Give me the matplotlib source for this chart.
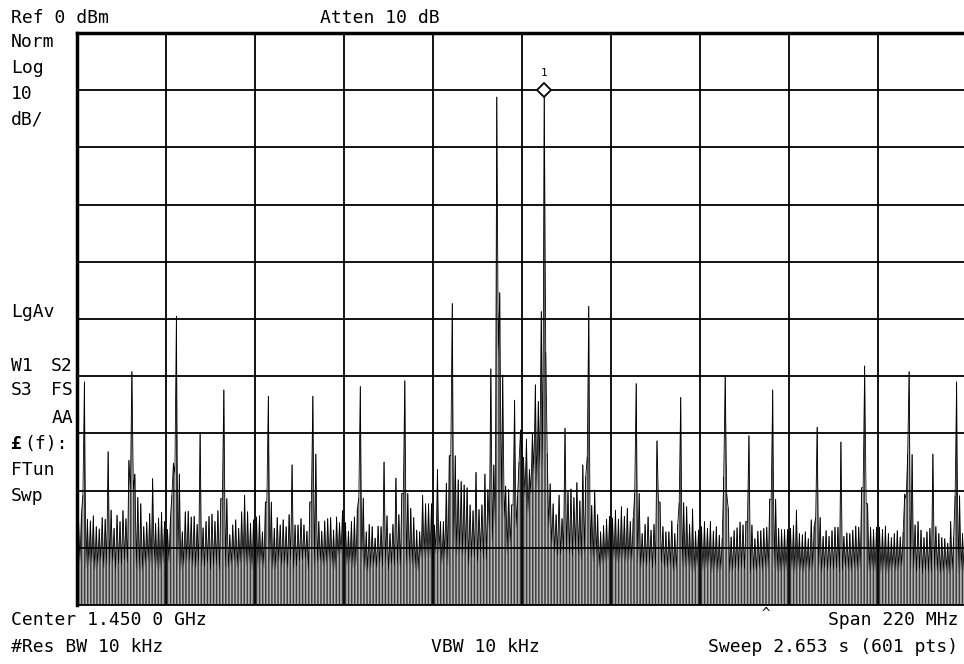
import matplotlib
matplotlib.use("Agg")
import matplotlib.pyplot as plt
import numpy as np

# sweep setup (MHz)
center = 1450.0
span = 220.0
n_pts = 601

# trace, odd sweep points (dBm)
upper = [
    -84.7, -84.0, -61.0, -85.0, -85.3, -84.4, -86.3, -86.7, -84.7, -85.0,
    -73.2, -83.4, -86.6, -84.3, -85.4, -83.5, -84.9, -74.7, -59.2, -77.1,
    -81.2, -82.3, -86.3, -85.5, -84.0, -77.9, -85.7, -84.8, -83.8, -85.4,
    -86.8, -84.6, -75.2, -49.5, -77.1, -87.2, -83.7, -83.6, -84.6, -84.5,
    -85.9, -69.8, -86.5, -85.4, -84.5, -84.1, -85.4, -83.5, -81.4, -62.4,
    -81.4, -87.7, -86.0, -85.1, -86.6, -83.7, -80.8, -83.7, -85.7, -85.1,
    -84.6, -84.4, -87.2, -82.0, -63.5, -82.0, -86.6, -84.7, -86.0, -85.1,
    -86.3, -84.2, -75.5, -86.0, -86.0, -84.9, -86.0, -87.1, -82.0, -63.5,
    -73.6, -85.4, -87.1, -85.3, -84.9, -84.7, -86.9, -84.6, -85.6, -83.5,
    -85.6, -87.1, -85.4, -84.6, -83.1, -61.8, -81.3, -87.2, -85.9, -86.3,
    -88.3, -86.2, -86.3, -75.0, -84.4, -87.5, -85.9, -77.8, -84.2, -80.5,
    -60.8, -80.5, -83.1, -84.7, -86.9, -87.2, -80.8, -82.3, -82.3, -82.3,
    -86.0, -76.3, -85.4, -85.4, -78.7, -73.9, -47.3, -73.9, -78.1, -78.4,
    -79.0, -79.5, -82.5, -83.5, -76.8, -83.3, -82.5, -77.1, -79.8, -58.7,
    -75.5, -11.2, -45.4, -59.8, -79.2, -79.8, -82.5, -64.2, -81.0, -69.4,
    -74.2, -71.0, -76.3, -69.9, -61.5, -64.4, -48.7, -10.0, -73.5, -78.8,
    -82.3, -84.2, -80.8, -84.9, -69.1, -80.0, -79.7, -81.2, -78.6, -81.8,
    -75.5, -77.5, -47.8, -82.6, -79.9, -84.2, -87.2, -86.1, -85.0, -84.5,
    -84.8, -83.4, -85.0, -82.8, -84.5, -83.1, -85.4, -84.8, -61.3, -80.5,
    -87.5, -85.9, -84.6, -86.9, -85.9, -71.3, -82.0, -86.3, -87.2, -87.2,
    -85.3, -87.5, -85.9, -63.7, -82.1, -82.8, -85.9, -83.2, -87.1, -86.9,
    -86.3, -85.4, -86.6, -85.4, -87.1, -86.3, -87.8, -88.3, -60.0, -83.0,
    -88.1, -87.0, -86.5, -85.5, -86.0, -85.4, -70.4, -86.0, -88.4, -87.1,
    -87.0, -86.6, -86.4, -81.5, -62.4, -81.5, -86.6, -86.8, -86.8, -86.8,
    -86.6, -86.1, -83.4, -87.5, -87.7, -87.2, -88.4, -85.1, -86.2, -68.9,
    -84.7, -88.0, -87.0, -88.0, -87.0, -86.4, -86.4, -71.5, -88.0, -87.4,
    -87.5, -86.9, -86.2, -86.4, -79.5, -58.2, -82.3, -86.4, -86.8, -86.4,
    -86.4, -86.8, -86.2, -87.5, -88.2, -87.5, -87.0, -88.1, -87.2, -81.5,
    -59.2, -73.7, -86.0, -85.4, -86.9, -88.2, -87.2, -86.6, -73.6, -86.3,
    -87.5, -88.2, -88.4, -89.2, -85.4, -88.2, -61.0, -80.9, -87.5, -86.6,
]

# trace, even sweep points (dBm)
lower = [
    -91.0, -92.5, -80.8, -93.4, -93.0, -92.6, -93.8, -93.2, -92.4, -93.6,
    -92.8, -93.2, -92.5, -93.7, -92.9, -93.1, -92.2, -92.7, -80.0, -79.9,
    -93.5, -93.9, -94.1, -93.0, -92.4, -93.2, -92.6, -93.4, -93.8, -92.6,
    -91.8, -92.5, -80.8, -77.1, -92.9, -93.8, -93.2, -92.5, -92.7, -93.3,
    -93.6, -92.8, -93.1, -93.4, -92.6, -93.9, -93.2, -92.8, -94.0, -81.4,
    -93.3, -93.6, -93.0, -92.4, -93.4, -92.9, -92.3, -93.1, -92.6, -93.7,
    -94.0, -93.2, -92.7, -93.4, -82.0, -92.5, -93.8, -93.6, -92.4, -93.3,
    -92.9, -93.5, -92.1, -93.7, -93.3, -92.4, -92.2, -91.9, -93.8, -82.0,
    -93.2, -92.6, -92.4, -93.1, -92.9, -92.2, -93.0, -93.7, -91.5, -91.0,
    -92.4, -93.0, -92.6, -93.5, -93.1, -81.3, -92.4, -93.8, -94.2, -93.6,
    -93.1, -93.5, -92.8, -93.4, -92.6, -93.9, -92.8, -93.2, -92.9, -93.3,
    -80.5, -93.0, -92.6, -93.1, -93.5, -94.0, -91.8, -91.6, -91.5, -91.6,
    -95.0, -91.0, -90.7, -92.8, -91.7, -93.1, -73.9, -90.8, -91.4, -91.0,
    -91.5, -91.2, -93.0, -91.7, -91.6, -92.5, -90.8, -92.0, -92.2, -86.7,
    -89.0, -86.0, -55.9, -83.0, -84.8, -91.0, -89.5, -82.5, -86.5, -75.0,
    -74.2, -81.0, -84.0, -80.5, -77.0, -79.2, -76.0, -76.0, -55.8, -86.3,
    -89.7, -90.8, -91.5, -91.3, -90.6, -90.7, -91.0, -91.5, -90.4, -91.3,
    -92.0, -91.0, -74.1, -90.9, -92.3, -91.4, -93.6, -92.7, -92.5, -92.1,
    -92.0, -92.0, -92.6, -92.3, -91.9, -92.5, -92.1, -92.3, -80.5, -92.6,
    -93.6, -92.9, -93.3, -92.6, -93.6, -93.0, -82.0, -92.7, -93.4, -93.6,
    -93.2, -94.1, -93.8, -82.1, -93.2, -93.6, -93.1, -93.9, -94.2, -93.2,
    -93.6, -94.0, -93.5, -93.0, -94.3, -93.6, -94.2, -93.8, -77.6, -80.6,
    -94.3, -94.0, -93.6, -94.0, -93.5, -93.8, -85.4, -94.4, -93.9, -94.2,
    -93.6, -94.0, -93.5, -93.8, -81.5, -93.4, -94.0, -94.2, -93.7, -93.9,
    -93.3, -93.7, -94.4, -93.6, -94.0, -94.2, -93.5, -94.1, -93.6, -84.7,
    -93.8, -94.3, -93.6, -94.0, -93.5, -93.9, -93.6, -94.2, -94.0, -93.4,
    -93.8, -94.1, -93.5, -93.9, -93.6, -79.5, -82.3, -94.2, -93.7, -94.0,
    -93.6, -94.3, -93.8, -94.4, -94.0, -93.5, -94.1, -93.7, -93.2, -80.6,
    -73.7, -94.0, -93.6, -94.3, -93.8, -94.4, -93.9, -94.2, -94.5, -93.7,
    -94.0, -94.6, -94.3, -93.8, -94.5, -94.0, -80.9, -94.3, -93.8, -94.4,
    -94.0,
]

marker_idx = 315
ref_level = 0
db_per_div = 10

W, H = 964, 664
fig = plt.figure(figsize=(W / 100, H / 100), dpi=100)
ax = fig.add_axes([77 / W, (H - 605) / H, 890 / W, 572 / H])

freq = np.linspace(center - span / 2, center + span / 2, n_pts)
trace = np.empty(n_pts)
trace[0::2] = lower
trace[1::2] = upper

bottom = ref_level - 10 * db_per_div
ax.vlines(freq, bottom, trace, color="black", lw=0.55, snap=False)
ax.plot(freq, trace, color="black", lw=0.6)

ax.set_xlim(freq[0], freq[-1])
ax.set_ylim(bottom, ref_level)
ax.set_xticks(np.linspace(freq[0], freq[-1], 11))
ax.set_yticks(np.linspace(bottom, ref_level, 11))
ax.grid(True, color="black", lw=1.3)
ax.tick_params(length=0, labelbottom=False, labelleft=False)
for s in ["left", "top"]:
    ax.spines[s].set_linewidth(2.5)
for s in ["right", "bottom"]:
    ax.spines[s].set_linewidth(1.3)

# marker 1
ax.plot(freq[marker_idx], trace[marker_idx], marker="D", ms=7, mfc="white",
        mec="black", mew=1.3, zorder=5)
ax.annotate("1", (freq[marker_idx], trace[marker_idx]), xytext=(0, 9),
            textcoords="offset points", ha="center", va="bottom",
            family="DejaVu Sans Mono", fontsize=8)

mono = "DejaVu Sans Mono"


def label(x, y, s, ha="left", **kw):
    fig.text(x / W, 1 - y / H, s, ha=ha, va="center", family=mono,
             fontsize=13, **kw)


label(11, 18, "Ref 0 dBm")
label(320, 18, "Atten 10 dB")
label(11, 42, "Norm")
label(11, 68, "Log")
label(11, 94, "10")
label(11, 119, "dB/")
label(11, 312, "LgAv")
label(11, 366, "W1")
label(73, 366, "S2", ha="right")
label(11, 390, "S3")
label(73, 390, "FS", ha="right")
label(73, 418, "AA", ha="right")
fig.text(11 / W, 1 - 444 / H, "£", ha="left", va="center", family=mono,
         fontsize=13, fontweight="bold")
label(24, 444, "(f):")
label(11, 470, "FTun")
label(11, 496, "Swp")

label(11, 620, "Center 1.450 0 GHz")
label(11, 647, "#Res BW 10 kHz")
label(485, 647, "VBW 10 kHz", ha="center")
label(958, 620, "Span 220 MHz", ha="right")
label(958, 647, "Sweep 2.653 s (601 pts)", ha="right")
fig.text(766 / W, 1 - 607 / H, "^", ha="center", va="top", family=mono,
         fontsize=10)

fig.savefig("out.png", dpi=100)
